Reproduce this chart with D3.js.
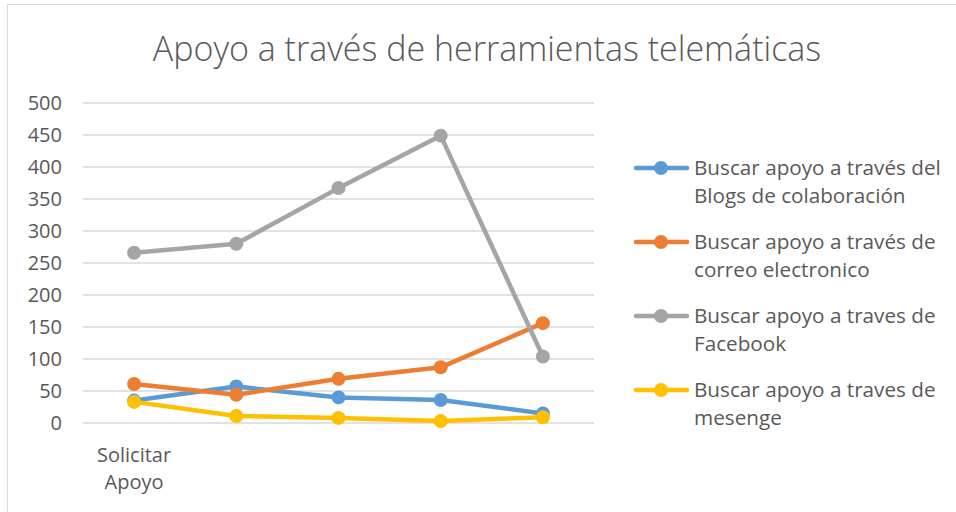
<!DOCTYPE html>
<html>
<head>
<meta charset="utf-8">
<script src="https://cdn.jsdelivr.net/npm/d3@7"></script>
<style>
  body { margin: 0; background: #fff; }
  svg { font-family: "Open Sans", Lato, sans-serif; }
</style>
</head>
<body>
<svg id="chart" width="956" height="512"></svg>
<script>
// chart data
var categories = ["Solicitar Apoyo", "", "", "", ""];
var seriesNames = [
    "Buscar apoyo a través del Blogs de colaboración",
    "Buscar apoyo a través de correo electronico",
    "Buscar apoyo a traves de Facebook",
    "Buscar apoyo a traves de mesenge"
];
var blogs    = [35, 57, 40, 36, 15];
var correo   = [61, 44, 69, 87, 156];
var facebook = [266, 280, 367, 449, 104];
var mesenge  = [33, 11, 8, 3, 9];
var yTicks = [0, 50, 100, 150, 200, 250, 300, 350, 400, 450, 500];

var legendLines = [
    ["Buscar apoyo a través del", "Blogs de colaboración"],
    ["Buscar apoyo a través de", "correo electronico"],
    ["Buscar apoyo a traves de", "Facebook"],
    ["Buscar apoyo a traves de", "mesenge"]
];
var colors = ["#5B9BD5", "#ED7D31", "#A5A5A5", "#FFC000"];

var series = [blogs, correo, facebook, mesenge].map((v, i) => ({name: seriesNames[i], values: v, color: colors[i], lines: legendLines[i]}));

var svg = d3.select("#chart"),
    margin = {top: 103, left: 83},
    width  = 511,
    height = 320,
    xScale = d3.scaleBand().domain(d3.range(categories.length)).range([0, width]),
    yScale = d3.scaleLinear().domain([0, 500]).range([height, 0]),
    g = svg.append("g").attr("transform", `translate(${margin.left},${margin.top})`);

// outer border (only top and left are visible in the crop)
svg.append("path")
    .attr("d", "M7.5,520 V4.5 H960")
    .attr("fill", "none")
    .attr("stroke", "#D9D9D9");

// title
svg.append("text")
    .attr("x", 487)
    .attr("y", 61)
    .attr("text-anchor", "middle")
    .attr("font-size", "34px")
    .attr("font-weight", 300)
    .attr("fill", "#595959")
    .text("Apoyo a través de herramientas telemáticas");

// gridlines
g.append("g").selectAll("line")
    .data(yTicks)
    .enter().append("line")
    .attr("x1", 0).attr("x2", width)
    .attr("y1", d => yScale(d)).attr("y2", d => yScale(d))
    .attr("stroke", "#D9D9D9")
    .attr("stroke-width", 1.3);

// y axis
var yAxis = g.append("g")
    .call(d3.axisLeft(yScale).tickValues(yTicks).tickSize(0).tickPadding(21));
yAxis.select(".domain").remove();
yAxis.selectAll("text")
    .attr("font-family", "'Open Sans', sans-serif")
    .attr("font-size", "20px")
    .attr("fill", "#595959");

// x labels (wrapped)
var xl = g.append("g").selectAll("text")
    .data(categories)
    .enter().append("text")
    .attr("text-anchor", "middle")
    .attr("font-size", "20px")
    .attr("fill", "#595959")
    .attr("x", (d, i) => xScale(i) + xScale.bandwidth() / 2);
xl.each(function(d){
    var words = d.split(" ").filter(w => w);
    d3.select(this).selectAll("tspan")
        .data(words)
        .enter().append("tspan")
        .attr("x", d3.select(this).attr("x"))
        .attr("y", (w, j) => height + 39 + j * 27)
        .text(w => w);
});

// lines
var line = d3.line()
    .x((d, i) => xScale(i) + xScale.bandwidth() / 2)
    .y(d => yScale(d));

var sg = g.selectAll(".series")
    .data(series)
    .enter().append("g")
    .attr("class", "series");

sg.append("path")
    .attr("d", d => line(d.values))
    .attr("fill", "none")
    .attr("stroke", d => d.color)
    .attr("stroke-width", 4.5)
    .attr("stroke-linejoin", "round")
    .attr("stroke-linecap", "round");

sg.selectAll("circle")
    .data(d => d.values.map(v => ({v: v, color: d.color})))
    .enter().append("circle")
    .attr("cx", (d, i) => xScale(i) + xScale.bandwidth() / 2)
    .attr("cy", d => yScale(d.v))
    .attr("r", 7)
    .attr("fill", d => d.color);

// legend
var legend = svg.append("g")
    .selectAll("g")
    .data(series)
    .enter().append("g")
    .attr("transform", (d, i) => `translate(634,${168 + i * 74})`);

legend.append("line")
    .attr("x1", 2).attr("x2", 53)
    .attr("stroke", d => d.color)
    .attr("stroke-width", 4.5)
    .attr("stroke-linecap", "round");

legend.append("circle")
    .attr("cx", 27)
    .attr("r", 7)
    .attr("fill", d => d.color);

legend.append("text")
    .attr("font-size", "20.7px")
    .attr("fill", "#595959")
    .selectAll("tspan")
    .data(d => d.lines)
    .enter().append("tspan")
    .attr("x", 60)
    .attr("y", (d, j) => 7 + j * 28)
    .text(d => d);
</script>
</body>
</html>
